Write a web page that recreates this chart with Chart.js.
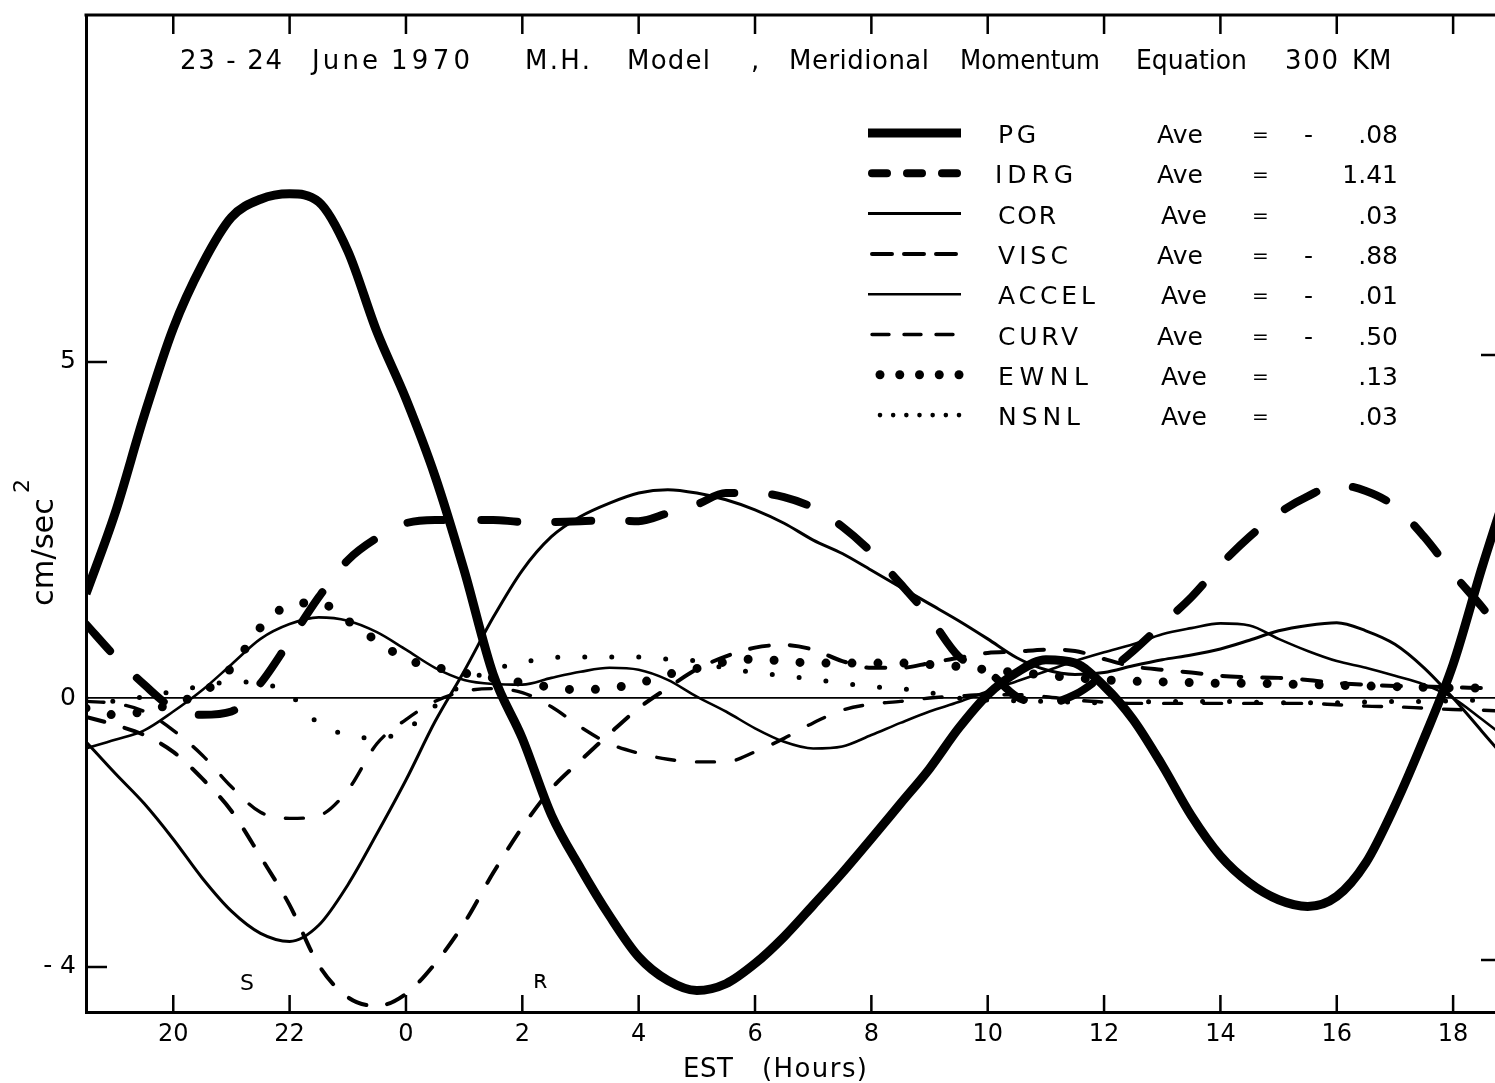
<!DOCTYPE html>
<html>
<head>
<meta charset="utf-8">
<title>Meridional Momentum Equation 300 KM</title>
<script src="https://cdn.jsdelivr.net/npm/chart.js@4.4.1/dist/chart.umd.min.js"></script>
<style>
  html, body { margin: 0; padding: 0; background: #fff; }
  canvas { display: block; }
</style>
</head>
<body>
<canvas id="chart" width="1495" height="1083"></canvas>
<script>
// EST hours counted from 00 on 23 June; values past 24 belong to 24 June
const hours = [18.5, 19, 19.5, 20, 20.5, 21, 21.5, 22, 22.5, 23,
  23.5, 24, 24.5, 25, 25.5, 26, 26.5, 27, 27.5, 28,
  28.5, 29, 29.5, 30, 30.5, 31, 31.5, 32, 32.5, 33,
  33.5, 34, 34.5, 35, 35.5, 36, 36.5, 37, 37.5, 38,
  38.5, 39, 39.5, 40, 40.5, 41, 41.5, 42, 42.5, 43];

// momentum terms, cm/sec^2
const pg = [1.55, 2.75, 4.2, 5.5, 6.45, 7.15, 7.42, 7.5, 7.38, 6.65,
  5.45, 4.45, 3.3, 1.9, 0.35, -0.6, -1.74, -2.53, -3.24, -3.85,
  -4.2, -4.35, -4.25, -3.95, -3.55, -3.08, -2.6, -2.09, -1.57, -1.05,
  -0.45, 0.05, 0.38, 0.57, 0.52, 0.18, -0.32, -1.0, -1.75, -2.35,
  -2.75, -3.0, -3.1, -2.95, -2.45, -1.6, -0.6, 0.5, 1.95, 3.3];
const idrg = [1.1, 0.62, 0.2, -0.15, -0.25, -0.2, 0.22, 0.85, 1.5, 2.05,
  2.38, 2.6, 2.65, 2.65, 2.65, 2.62, 2.62, 2.63, 2.65, 2.63,
  2.75, 2.88, 3.05, 3.05, 2.99, 2.83, 2.55, 2.17, 1.7, 1.2,
  0.62, 0.4, 0.02, -0.08, 0.05, 0.35, 0.7, 1.1, 1.5, 1.98,
  2.4, 2.75, 3.0, 3.17, 3.08, 2.85, 2.4, 1.85, 1.35, 0.8];
const cor = [-0.65, -1.12, -1.57, -2.1, -2.68, -3.17, -3.5, -3.62, -3.38, -2.78,
  -2.02, -1.22, -0.35, 0.4, 1.2, 1.9, 2.4, 2.7, 2.9, 3.05,
  3.1, 3.05, 2.95, 2.8, 2.6, 2.35, 2.15, 1.9, 1.65, 1.4,
  1.15, 0.88, 0.6, 0.42, 0.35, 0.38, 0.48, 0.57, 0.64, 0.73,
  0.86, 1.0, 1.08, 1.12, 1.0, 0.8, 0.45, 0.0, -0.5, -1.0];
const visc = [-0.28, -0.4, -0.55, -0.8, -1.2, -1.68, -2.36, -3.08, -3.97, -4.45,
  -4.58, -4.4, -3.95, -3.35, -2.6, -1.92, -1.35, -0.93, -0.53, -0.15,
  0.15, 0.43, 0.62, 0.75, 0.79, 0.72, 0.55, 0.45, 0.45, 0.52,
  0.6, 0.67, 0.69, 0.72, 0.7, 0.58, 0.47, 0.42, 0.38, 0.33,
  0.31, 0.3, 0.27, 0.22, 0.2, 0.18, 0.17, 0.16, 0.15, 0.15];
const accel = [-0.75, -0.62, -0.48, -0.2, 0.12, 0.5, 0.88, 1.1, 1.2, 1.15,
  0.98, 0.72, 0.45, 0.27, 0.21, 0.2, 0.3, 0.39, 0.45, 0.42,
  0.27, 0.02, -0.2, -0.45, -0.65, -0.75, -0.72, -0.55, -0.37, -0.2,
  -0.06, 0.1, 0.25, 0.4, 0.55, 0.68, 0.8, 0.95, 1.04, 1.11,
  1.08, 0.88, 0.7, 0.55, 0.45, 0.33, 0.2, 0.0, -0.32, -0.65];
const curv = [-0.05, -0.08, -0.2, -0.48, -0.85, -1.32, -1.7, -1.79, -1.75, -1.37,
  -0.68, -0.32, -0.05, 0.1, 0.14, 0.08, -0.13, -0.43, -0.68, -0.82,
  -0.91, -0.95, -0.95, -0.8, -0.6, -0.37, -0.18, -0.09, -0.05, 0.0,
  0.03, 0.05, 0.05, 0.02, -0.03, -0.06, -0.08, -0.08, -0.08, -0.08,
  -0.08, -0.08, -0.08, -0.1, -0.12, -0.13, -0.15, -0.17, -0.18, -0.2];
const ewnl = [-0.15, -0.25, -0.2, -0.08, 0.08, 0.45, 1.05, 1.38, 1.42, 1.15,
  0.85, 0.58, 0.46, 0.37, 0.3, 0.23, 0.16, 0.12, 0.15, 0.22,
  0.35, 0.44, 0.54, 0.58, 0.55, 0.52, 0.52, 0.52, 0.52, 0.5,
  0.47, 0.42, 0.38, 0.34, 0.3, 0.27, 0.25, 0.24, 0.23, 0.22,
  0.22, 0.21, 0.2, 0.19, 0.18, 0.17, 0.16, 0.15, 0.15, 0.15];
const nsnl = [0.0, -0.05, 0.02, 0.1, 0.18, 0.24, 0.22, 0.05, -0.38, -0.55,
  -0.6, -0.47, -0.12, 0.22, 0.42, 0.53, 0.6, 0.61, 0.61, 0.61,
  0.58, 0.55, 0.44, 0.38, 0.33, 0.28, 0.22, 0.17, 0.14, 0.08,
  0.0, -0.03, -0.04, -0.05, -0.06, -0.07, -0.06, -0.05, -0.05, -0.05,
  -0.06, -0.07, -0.07, -0.07, -0.06, -0.05, -0.05, -0.04, -0.03, -0.03];

const termNames = ['PG', 'IDRG', 'COR', 'VISC', 'ACCEL', 'CURV', 'EWNL', 'NSNL'];
const termAverages = [-0.08, 1.41, 0.03, -0.88, -0.01, -0.50, 0.13, 0.03];

const tickHours = [20, 22, 24, 26, 28, 30, 32, 34, 36, 38, 40, 42];
const tickLabels = ['20', '22', '0', '2', '4', '6', '8', '10', '12', '14', '16', '18'];
const yTicks = [-4, 0, 5];

const FONT = '"DejaVu Sans", sans-serif';

// line look of each term, in the same order as termNames
const lineStyles = [
  { width: 9, dash: [], cap: 'butt', key: [] },
  { width: 8, dash: [36, 38], cap: 'round', key: [15, 20] },
  { width: 3, dash: [], cap: 'butt', key: [] },
  { width: 4, dash: [19, 21], cap: 'round', key: [20, 12] },
  { width: 2.6, dash: [], cap: 'butt', key: [] },
  { width: 3.4, dash: [18, 22], cap: 'round', key: [17, 15] },
  { width: 9, dash: [0, 26], cap: 'round', dots: 5, dotR: 4.5 },
  { width: 5, dash: [0, 27], cap: 'round', dots: 7, dotR: 2.3 }
];

const series = [pg, idrg, cor, visc, accel, curv, ewnl, nsnl];

const datasets = series.map((values, i) => ({
  label: termNames[i],
  data: hours.map((h, j) => ({ x: h, y: values[j] })),
  borderColor: '#000',
  borderWidth: lineStyles[i].width,
  borderDash: lineStyles[i].dash,
  borderCapStyle: lineStyles[i].cap,
  borderJoinStyle: 'round',
  pointRadius: 0,
  fill: false,
  cubicInterpolationMode: 'monotone'
}));

// write text so that it spans a given width
function fitText(ctx, text, x, y, width) {
  ctx.letterSpacing = '0px';
  const w = ctx.measureText(text).width;
  if (width && w > width) {
    ctx.fillText(text, x, y, width);
    return;
  }
  if (width && text.length > 1) {
    ctx.letterSpacing = ((width - w) / (text.length - 1)) + 'px';
  }
  ctx.fillText(text, x, y);
  ctx.letterSpacing = '0px';
}

function fmtAverage(v) {
  const a = Math.abs(v).toFixed(2);
  return a.startsWith('0') ? a.slice(1) : a;
}

const frame = {
  id: 'frame',
  afterDraw(chart) {
    const ctx = chart.ctx;
    const { left, right, top, bottom } = chart.chartArea;
    const xs = chart.scales.x, ys = chart.scales.y;
    ctx.save();
    ctx.strokeStyle = '#000';
    ctx.fillStyle = '#000';

    // top edge of the frame
    ctx.lineWidth = 3;
    ctx.beginPath();
    ctx.moveTo(left - 1.5, top);
    ctx.lineTo(right, top);
    ctx.stroke();

    // inward tick marks
    ctx.lineWidth = 2.5;
    tickHours.forEach(h => {
      const px = xs.getPixelForValue(h);
      ctx.beginPath();
      ctx.moveTo(px, top);
      ctx.lineTo(px, top + 19);
      ctx.moveTo(px, bottom);
      ctx.lineTo(px, bottom - 17);
      ctx.stroke();
    });
    [5, -4].forEach(v => {
      const py = ys.getPixelForValue(v);
      ctx.beginPath();
      ctx.moveTo(left, py);
      ctx.lineTo(left + 21, py);
      ctx.moveTo(right - 14, py - 7);
      ctx.lineTo(right, py - 7);
      ctx.stroke();
    });

    // heading
    ctx.font = '26px ' + FONT;
    ctx.textBaseline = 'alphabetic';
    ctx.textAlign = 'left';
    [['23 - 24', 180, 282], ['June', 312, 378], ['1970', 391, 470],
     ['M.H.', 525, 590], ['Model', 627, 710], [',', 751, 0],
     ['Meridional', 789, 929], ['Momentum', 960, 1100], ['Equation', 1136, 1247],
     ['300', 1285, 1338], ['KM', 1352, 0]].forEach(([t, x0, x1]) => {
      fitText(ctx, t, x0, 69, x1 ? x1 - x0 : 0);
    });

    // key with term averages
    ctx.font = '25px ' + FONT;
    termNames.forEach((name, i) => {
      const cy = 133 + i * 40.3;
      const st = lineStyles[i];
      ctx.save();
      if (st.dots) {
        for (let k = 0; k < st.dots; k++) {
          const px = 880 + k * (79 / (st.dots - 1));
          ctx.beginPath();
          ctx.arc(px, cy, st.dotR, 0, Math.PI * 2);
          ctx.fill();
        }
      } else {
        ctx.lineWidth = st.width;
        ctx.lineCap = st.key.length ? st.cap : 'butt';
        ctx.setLineDash(st.key);
        ctx.beginPath();
        ctx.moveTo(st.key.length ? 872 : 868, cy);
        ctx.lineTo(st.key.length ? 958 : 961, cy);
        ctx.stroke();
      }
      ctx.restore();

      const base = cy + 10;
      const labelWidths = [38, 78, 58, 70, 97, 80, 90, 82];
      fitText(ctx, name, i === 1 ? 995 : 998, base, labelWidths[i]);
      fitText(ctx, 'Ave', [0, 1, 3, 5].includes(i) ? 1157 : 1161, base, 46);
      ctx.font = '20px ' + FONT;
      ctx.fillText('=', 1252, base - 2);
      ctx.font = '25px ' + FONT;
      if (termAverages[i] < 0) ctx.fillText('-', 1304, base);
      ctx.textAlign = 'right';
      fitText(ctx, fmtAverage(termAverages[i]), 1398, base, 0);
      ctx.textAlign = 'left';
    });

    // axis titles
    ctx.font = '26px ' + FONT;
    ctx.textAlign = 'left';
    fitText(ctx, 'EST', 683, 1077, 50);
    fitText(ctx, '(Hours)', 762, 1077, 105);

    ctx.save();
    ctx.translate(53, 606);
    ctx.rotate(-Math.PI / 2);
    ctx.font = '31px ' + FONT;
    fitText(ctx, 'cm/sec', 0, 0, 108);
    ctx.font = '22px ' + FONT;
    ctx.fillText('2', 113, -24);
    ctx.restore();

    // twilight marks
    ctx.font = '22px ' + FONT;
    ctx.fillText('S', 240, 990);
    ctx.font = '24px ' + FONT;
    ctx.fillText('ʀ', 533, 988);

    ctx.restore();
  }
};

new Chart(document.getElementById('chart'), {
  type: 'line',
  data: { datasets },
  plugins: [frame],
  options: {
    responsive: false,
    animation: false,
    devicePixelRatio: 1,
    layout: { padding: { top: 15, right: 0, left: 0, bottom: 0 } },
    plugins: { legend: { display: false }, tooltip: { enabled: false } },
    scales: {
      x: {
        type: 'linear',
        min: 18.5,
        max: 42.72,
        afterBuildTicks: s => { s.ticks = tickHours.map(v => ({ value: v })); },
        afterFit: s => { s.height = 71; s.paddingLeft = 0; s.paddingRight = 0; },
        ticks: {
          color: '#000',
          padding: 8,
          font: { family: FONT, size: 24 },
          callback: (v, i) => tickLabels[i]
        },
        grid: { display: false, drawTicks: false },
        border: { display: true, color: '#000', width: 3 }
      },
      y: {
        min: -4.67,
        max: 10.16,
        afterBuildTicks: s => { s.ticks = yTicks.map(v => ({ value: v })); },
        afterFit: s => { s.width = 86; s.paddingTop = 0; s.paddingBottom = 0; },
        ticks: {
          color: '#000',
          padding: 10,
          font: { family: FONT, size: 25 },
          callback: v => v < 0 ? '- ' + Math.abs(v) : String(v)
        },
        grid: {
          drawTicks: false,
          lineWidth: 1.8,
          color: c => (c.tick && c.tick.value === 0) ? '#000' : 'rgba(0,0,0,0)'
        },
        border: { display: true, color: '#000', width: 3 }
      }
    }
  }
});
</script>
</body>
</html>
